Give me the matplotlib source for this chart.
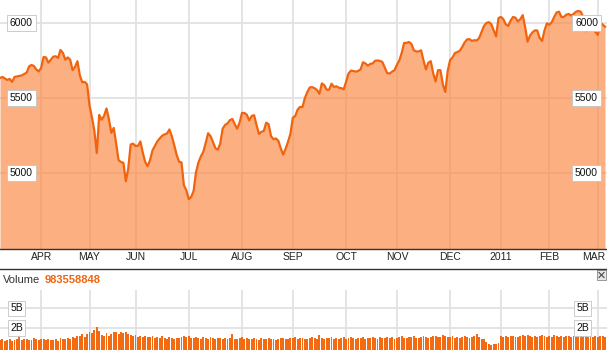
import numpy as np
import pandas as pd
import matplotlib
matplotlib.use('Agg')
import matplotlib.pyplot as plt
from matplotlib.lines import Line2D
from matplotlib.patches import Rectangle
import matplotlib.transforms as mtransforms

plt.rcParams['font.family'] = ['Liberation Sans', 'DejaVu Sans']

# UK trading sessions, 9 Mar 2010 - 4 Mar 2011
holidays = ['2010-04-02', '2010-04-05', '2010-05-03', '2010-05-31', '2010-08-30',
            '2010-12-27', '2010-12-28', '2011-01-03']
sessions = pd.bdate_range('2010-03-09', '2011-03-04')
sessions = sessions[~sessions.isin(pd.to_datetime(holidays))]

month_labels = ['APR', 'MAY', 'JUN', 'JUL', 'AUG', 'SEP', 'OCT', 'NOV', 'DEC',
                '2011', 'FEB', 'MAR']
price_ticks = [5000, 5500, 6000]
volume_ticks = [2, 5]          # billions
volume_tick_labels = ['2B', '5B']
latest_volume = 983558848

# daily close
close = [
    5633, 5640, 5630, 5620, 5627, 5607, 5640, 5643, 5647, 5650,
    5660, 5668, 5710, 5720, 5713, 5690, 5677, 5700, 5773, 5770,
    5735, 5755, 5775, 5778, 5767, 5820, 5800, 5755, 5770, 5755,
    5685, 5707, 5745, 5650, 5605, 5607, 5590, 5450, 5370, 5280,
    5133, 5387, 5355, 5380, 5430, 5360, 5267, 5300, 5195, 5085,
    5073, 5067, 4945, 5030, 5190, 5195, 5180, 5180, 5210, 5135,
    5073, 5045, 5085, 5150, 5180, 5210, 5230, 5248, 5257, 5263,
    5290, 5245, 5185, 5120, 5075, 5070, 4917, 4885, 4825, 4840,
    4880, 5005, 5070, 5110, 5140, 5200, 5265, 5245, 5207, 5165,
    5155, 5195, 5295, 5320, 5330, 5352, 5360, 5325, 5295, 5335,
    5400, 5400, 5388, 5350, 5380, 5385, 5320, 5260, 5274, 5280,
    5335, 5325, 5245, 5225, 5230, 5215, 5165, 5122, 5160, 5207,
    5260, 5368, 5380, 5423, 5440, 5440, 5500, 5540, 5570, 5572,
    5565, 5553, 5527, 5597, 5585, 5555, 5555, 5595, 5573, 5578,
    5568, 5566, 5557, 5607, 5662, 5682, 5680, 5675, 5680, 5690,
    5738, 5730, 5715, 5727, 5730, 5748, 5750, 5747, 5740, 5703,
    5665, 5663, 5675, 5685, 5720, 5750, 5800, 5867, 5867, 5873,
    5860, 5818, 5810, 5810, 5818, 5750, 5690, 5735, 5745, 5665,
    5610, 5685, 5685, 5590, 5540, 5680, 5753, 5770, 5800, 5806,
    5815, 5840, 5870, 5890, 5892, 5880, 5885, 5883, 5900, 5940,
    5980, 6000, 6005, 5992, 5950, 5910, 6033, 6040, 6025, 5990,
    5980, 6015, 6040, 6035, 6010, 6025, 6052, 5973, 5875, 5915,
    5937, 5950, 5950, 5900, 5880, 5950, 5998, 5988, 6005, 6040,
    6070, 6075, 6040, 6040, 6055, 6060, 6050, 6060, 6075, 6080,
    6075, 6040, 5945, 5960, 5970, 5970, 5940, 5920, 6000, 5990, 5975,
]

# daily volume in billions of shares
volume = [
    0.62, 0.70, 0.58, 0.66, 0.74, 0.60, 0.68, 0.72, 1.10, 0.65,
    0.70, 0.76, 0.62, 0.68, 0.80, 0.72, 0.66, 0.78, 0.70, 0.64,
    0.74, 0.68, 0.62, 0.70, 0.58, 0.82, 0.76, 0.70, 0.88, 0.74,
    0.96, 0.84, 1.10, 1.05, 1.25, 0.98, 1.30, 1.45, 1.35, 1.70,
    2.20, 1.60, 1.20, 1.05, 1.35, 1.10, 1.30, 1.45, 1.55, 1.30,
    1.50, 1.40, 1.45, 1.25, 1.15, 1.00, 1.20, 0.92, 1.05, 0.98,
    1.10, 0.90, 0.95, 1.05, 0.85, 0.92, 0.80, 1.00, 0.86, 0.78,
    0.92, 0.84, 0.76, 0.88, 0.80, 0.95, 1.00, 0.90, 1.05, 0.86,
    0.80, 0.94, 0.82, 0.76, 0.90, 0.84, 0.78, 0.92, 0.86, 0.74,
    0.80, 0.88, 0.76, 0.82, 0.70, 0.86, 1.30, 0.78, 0.72, 0.84,
    0.90, 0.76, 0.82, 0.70, 0.78, 0.86, 0.74, 0.68, 0.80, 0.72,
    0.76, 0.84, 0.70, 0.78, 0.66, 0.74, 0.82, 0.88, 0.72, 0.78,
    0.86, 0.80, 0.92, 0.74, 0.82, 0.88, 0.78, 0.70, 0.84, 0.90,
    0.80, 0.76, 1.20, 0.84, 0.72, 0.88, 0.80, 0.92, 0.78, 0.86,
    0.74, 0.82, 0.90, 0.78, 0.84, 0.96, 0.80, 0.72, 0.88, 0.82,
    0.90, 0.76, 0.84, 0.80, 0.94, 0.86, 0.78, 0.92, 0.84, 0.88,
    0.98, 0.82, 0.90, 0.78, 0.86, 0.94, 1.00, 0.88, 0.82, 0.96,
    0.90, 1.02, 0.86, 0.80, 0.92, 1.05, 0.96, 0.84, 0.90, 1.10,
    1.00, 0.92, 0.98, 1.20, 1.05, 0.96, 0.90, 1.02, 0.86, 0.94,
    0.88, 0.96, 1.00, 0.92, 0.84, 0.98, 1.10, 1.30, 0.90, 0.70,
    0.70, 0.45, 0.30, 0.22, 0.35, 0.28, 0.40, 1.05, 0.98, 1.10,
    0.92, 1.00, 1.08, 0.96, 0.90, 1.04, 1.12, 1.00, 1.20, 1.05,
    0.98, 1.10, 0.94, 1.02, 1.15, 1.00, 0.92, 1.06, 0.98, 1.12,
    1.04, 0.96, 1.08, 0.94, 1.00, 1.10, 0.92, 1.02, 0.96, 1.08,
    1.00, 1.15, 1.05, 0.94, 1.10, 0.98, 1.04, 0.96, 1.08, 1.00, 0.98,
]

assert len(sessions) == len(close) == len(volume)
idx = np.arange(len(sessions))
months = sessions.to_period('M')
month_starts = np.flatnonzero(np.r_[True, months[1:] != months[:-1]])[1:]

W, H = 607, 350
fig = plt.figure(figsize=(W / 100, H / 100), dpi=100)
line_color = '#F0640F'
grid_color = '#e2e2e2'
box = dict(boxstyle='square,pad=0.25', fc='white', ec='#c4c4c4', lw=0.6)
xmax = (len(sessions) - 1) * W / 605.0

# price panel
ax = fig.add_axes([0, 101 / H, 1, 249 / H])
ax.fill_between(idx, close, 4400, color='#FC8842', alpha=0.67, lw=0)
ax.plot(idx, close, color=line_color, lw=1.6, solid_joinstyle='round')
ax.set_xlim(0, xmax)
ax.set_ylim(4493, 6153)
ax.set_axisbelow(True)
ax.set_xticks(month_starts)
ax.set_xticklabels(month_labels, fontsize=7.5, color='#222222')
ax.set_yticks(price_ticks)
ax.set_yticklabels([])
ax.tick_params(length=0, pad=2.5)
ax.grid(True, color=grid_color, lw=1.3)
# last month label sits at the right edge, nudge it inwards
last = ax.get_xticklabels()[-1]
last.set_transform(last.get_transform() +
                   mtransforms.ScaledTranslation(-3 / 72, 0, fig.dpi_scale_trans))
for side in ['top', 'left', 'right']:
    ax.spines[side].set_visible(False)
ax.spines['bottom'].set_color('#333333')
ax.spines['bottom'].set_linewidth(1.0)
trans = mtransforms.blended_transform_factory(ax.transAxes, ax.transData)
for p in price_ticks:
    for xf in (21.5 / W, 586.5 / W):
        ax.text(xf, p, str(p), transform=trans, fontsize=7.5, ha='center',
                va='center', color='#111111', bbox=box, zorder=5)

# volume panel
fwd = lambda v: np.power(np.clip(v, 0, None), 0.7)
inv = lambda f: np.power(np.clip(f, 0, None), 1 / 0.7)
axv = fig.add_axes([0, 0, 1, 60 / H])
axv.set_yscale('function', functions=(fwd, inv))
axv.bar(idx, volume, width=0.78, color='#F26A12', lw=0)
axv.set_xlim(0, xmax)
axv.set_ylim(0, 8.4)
axv.set_axisbelow(True)
axv.set_xticks(month_starts)
axv.set_yticks(volume_ticks)
axv.set_xticklabels([])
axv.set_yticklabels([])
axv.tick_params(length=0)
axv.grid(True, color=grid_color, lw=1.3)
for s in axv.spines.values():
    s.set_visible(False)
vtrans = mtransforms.blended_transform_factory(axv.transAxes, axv.transData)
for v, lab in zip(volume_ticks, volume_tick_labels):
    for xf in (16.5 / W, 582.5 / W):
        axv.text(xf, v, lab, transform=vtrans, fontsize=7.5, ha='center',
                 va='center', color='#111111', bbox=box, zorder=5)

# header of volume panel
fig.add_artist(Line2D([0, 1], [1 - 269 / H] * 2, color='#333333', lw=1.0))
fig.text(3 / W, 1 - 280 / H, 'Volume', fontsize=8, color='#333333', va='center')
fig.text(45 / W, 1 - 280 / H, f'{latest_volume}', fontsize=8, color=line_color,
         va='center', fontweight='bold')
fig.add_artist(Rectangle((597 / W, 1 - 280 / H), 9 / W, 10 / H, fc='#e6e6e6',
                         ec='#888888', lw=0.6))
fig.add_artist(Line2D([599 / W, 604 / W], [1 - 277.5 / H, 1 - 272.5 / H], color='#444444', lw=0.8))
fig.add_artist(Line2D([599 / W, 604 / W], [1 - 272.5 / H, 1 - 277.5 / H], color='#444444', lw=0.8))

fig.savefig('out.png', dpi=100)
